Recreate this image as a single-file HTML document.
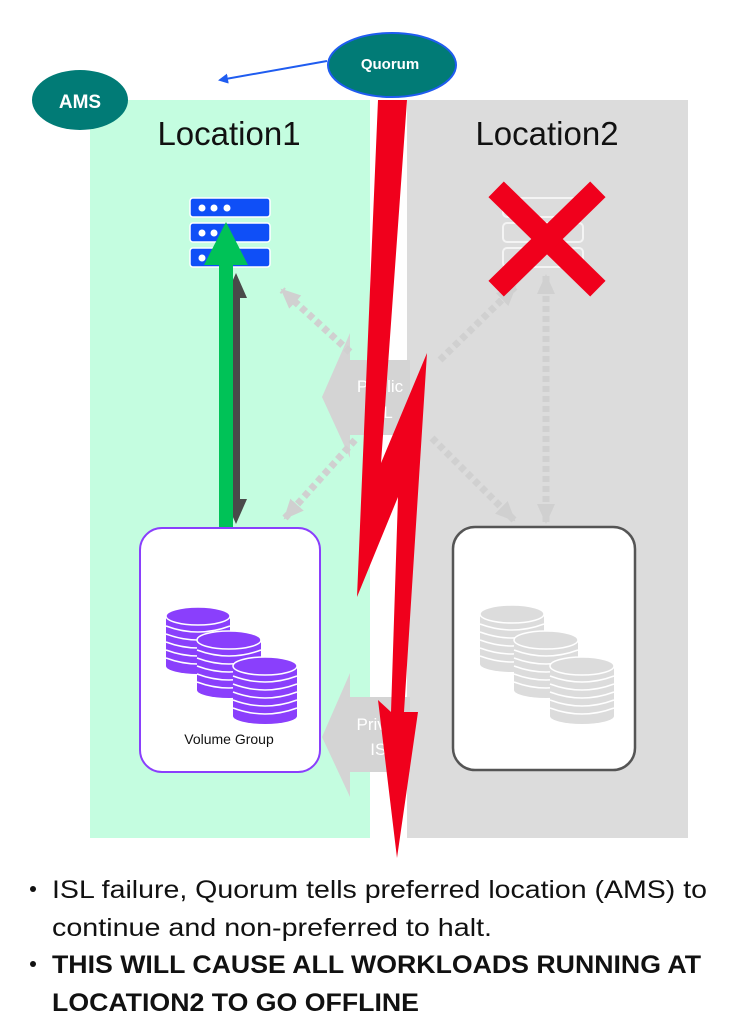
<!DOCTYPE html>
<html><head><meta charset="utf-8"><style>
html,body{margin:0;padding:0;background:#fff;}
svg{display:block;}
</style></head><body>
<svg width="742" height="1023" viewBox="0 0 742 1023" xmlns="http://www.w3.org/2000/svg" font-family="Liberation Sans, sans-serif">
<defs>
<marker id="ba" markerWidth="10" markerHeight="10" refX="8" refY="5" orient="auto" markerUnits="userSpaceOnUse"><path d="M0,0 L10,5 L0,10 z" fill="#1f5cf0"/></marker>
<marker id="gh" markerWidth="22" markerHeight="22" refX="18" refY="11" orient="auto-start-reverse" markerUnits="userSpaceOnUse"><path d="M0,2 L20,11 L0,20 z" fill="#d0d0d0"/></marker>
<g id="cyl">
<rect x="0" y="8" width="64" height="50" fill="#8a3ffc"/>
<ellipse cx="32" cy="58" rx="32" ry="8" fill="#8a3ffc"/>
<g stroke="#fff" stroke-width="1.5" fill="none">
<path d="M0,18 Q32,30 64,18"/><path d="M0,26 Q32,38 64,26"/><path d="M0,34 Q32,46 64,34"/><path d="M0,42 Q32,54 64,42"/><path d="M0,50 Q32,62 64,50"/>
</g>
<ellipse cx="32" cy="8" rx="32" ry="9" fill="#8a3ffc" stroke="#fff" stroke-width="1.5"/>
</g>
<g id="cylg">
<rect x="0" y="8" width="64" height="50" fill="#dcdcdc"/>
<ellipse cx="32" cy="58" rx="32" ry="8" fill="#dcdcdc"/>
<g stroke="#fff" stroke-width="1.5" fill="none">
<path d="M0,18 Q32,30 64,18"/><path d="M0,26 Q32,38 64,26"/><path d="M0,34 Q32,46 64,34"/><path d="M0,42 Q32,54 64,42"/><path d="M0,50 Q32,62 64,50"/>
</g>
<ellipse cx="32" cy="8" rx="32" ry="9" fill="#dcdcdc" stroke="#fff" stroke-width="1.5"/>
</g>
</defs>

<rect x="90" y="100" width="280" height="738" fill="#c4fde0"/>
<rect x="407" y="100" width="281" height="738" fill="#dcdcdc"/>

<text x="229" y="145" font-size="33" text-anchor="middle" fill="#111">Location1</text>
<text x="547" y="145" font-size="33" text-anchor="middle" fill="#111">Location2</text>

<path d="M322,397 L350,333 L350,360 L410,360 L410,435 L350,435 L350,458 z" fill="#d4d4d4"/>
<text x="380" y="392" font-size="17" fill="#fff" text-anchor="middle">Public</text>
<text x="380" y="418" font-size="17" fill="#fff" text-anchor="middle">ISL</text>
<path d="M322,737 L350,673 L350,697 L410,697 L410,772 L350,772 L350,797 z" fill="#d4d4d4"/>
<text x="383" y="730" font-size="17" fill="#fff" text-anchor="middle">Private</text>
<text x="383" y="755" font-size="17" fill="#fff" text-anchor="middle">ISL</text>

<g stroke="#d0d0d0" stroke-width="7" stroke-dasharray="6,4" fill="none">
<line x1="350" y1="352" x2="282" y2="290" marker-end="url(#gh)"/>
<line x1="355" y1="440" x2="285" y2="518" marker-end="url(#gh)"/>
<line x1="440" y1="360" x2="515" y2="287" marker-end="url(#gh)"/>
<line x1="432" y1="438" x2="514" y2="520" marker-end="url(#gh)"/>
<line x1="546" y1="276" x2="546" y2="522" marker-start="url(#gh)" marker-end="url(#gh)"/>
</g>

<g>
<rect x="190" y="198" width="80" height="19" rx="3" fill="#0f4ff7" stroke="#fff" stroke-width="1.5"/>
<rect x="190" y="223" width="80" height="19" rx="3" fill="#0f4ff7" stroke="#fff" stroke-width="1.5"/>
<rect x="190" y="248" width="80" height="19" rx="3" fill="#0f4ff7" stroke="#fff" stroke-width="1.5"/>
<circle cx="202" cy="208" r="3.5" fill="#fff"/><circle cx="214" cy="208" r="3.5" fill="#fff"/><circle cx="227" cy="208" r="3.5" fill="#fff"/>
<circle cx="202" cy="233" r="3.5" fill="#fff"/><circle cx="214" cy="233" r="3.5" fill="#fff"/>
<circle cx="202" cy="258" r="3.5" fill="#fff"/>
</g>
<g fill="none" stroke="#f4f4f4" stroke-width="2">
<rect x="503" y="198" width="80" height="19" rx="4"/>
<rect x="503" y="223" width="80" height="19" rx="4"/>
<rect x="503" y="248" width="80" height="19" rx="4"/>
</g>

<rect x="232" y="290" width="8" height="220" fill="#4a4a4a"/>
<path d="M236,273 L247,298 L225,298 z M236,524 L247,499 L225,499 z" fill="#4a4a4a"/>
<rect x="219" y="262" width="14" height="290" fill="#00c257"/>
<path d="M226,222 L248,265 L204,265 z M226,592 L248,547 L203,547 z" fill="#00c257"/>

<rect x="140" y="528" width="180" height="244" rx="22" fill="#fff" stroke="#8a3ffc" stroke-width="2"/>
<rect x="453" y="527" width="182" height="243" rx="22" fill="#fff" stroke="#555" stroke-width="2.5"/>
<use href="#cyl" x="166" y="608"/>
<use href="#cyl" x="197" y="632"/>
<use href="#cyl" x="233" y="658"/>
<use href="#cylg" x="480" y="606"/>
<use href="#cylg" x="514" y="632"/>
<use href="#cylg" x="550" y="658"/>
<text x="229" y="744" font-size="14" text-anchor="middle" fill="#111">Volume Group</text>

<g stroke="#f0001c" stroke-width="22" stroke-linecap="square">
<line x1="504" y1="197" x2="590" y2="281"/>
<line x1="590" y1="197" x2="504" y2="281"/>
</g>

<path d="M378,100 L407,100 L381,463 L427,353 L404,712 L418,712 L397,858 L378,700 L391,712 L398,497 L357,597 z" fill="#f0001c"/>

<line x1="327" y1="61" x2="220" y2="80" stroke="#1f5cf0" stroke-width="2" marker-end="url(#ba)"/>
<ellipse cx="392" cy="65" rx="64" ry="32" fill="#017b76" stroke="#1f5cf0" stroke-width="2"/>
<text x="390" y="69" font-size="15" font-weight="bold" fill="#fff" text-anchor="middle">Quorum</text>
<ellipse cx="80" cy="100" rx="48" ry="30" fill="#017b76"/>
<text x="80" y="108" font-size="19" font-weight="bold" fill="#fff" text-anchor="middle">AMS</text>

<g fill="#111" font-size="25">
<circle cx="33" cy="889" r="3"/>
<text x="52" y="898" textLength="655" lengthAdjust="spacingAndGlyphs">ISL failure, Quorum tells preferred location (AMS) to</text>
<text x="52" y="936" textLength="440" lengthAdjust="spacingAndGlyphs">continue and non-preferred to halt.</text>
<circle cx="33" cy="964" r="3"/>
<text x="52" y="973" font-weight="bold" textLength="649" lengthAdjust="spacingAndGlyphs">THIS WILL CAUSE ALL WORKLOADS RUNNING AT</text>
<text x="52" y="1011" font-weight="bold" textLength="367" lengthAdjust="spacingAndGlyphs">LOCATION2 TO GO OFFLINE</text>
</g>
</svg>
</body></html>
